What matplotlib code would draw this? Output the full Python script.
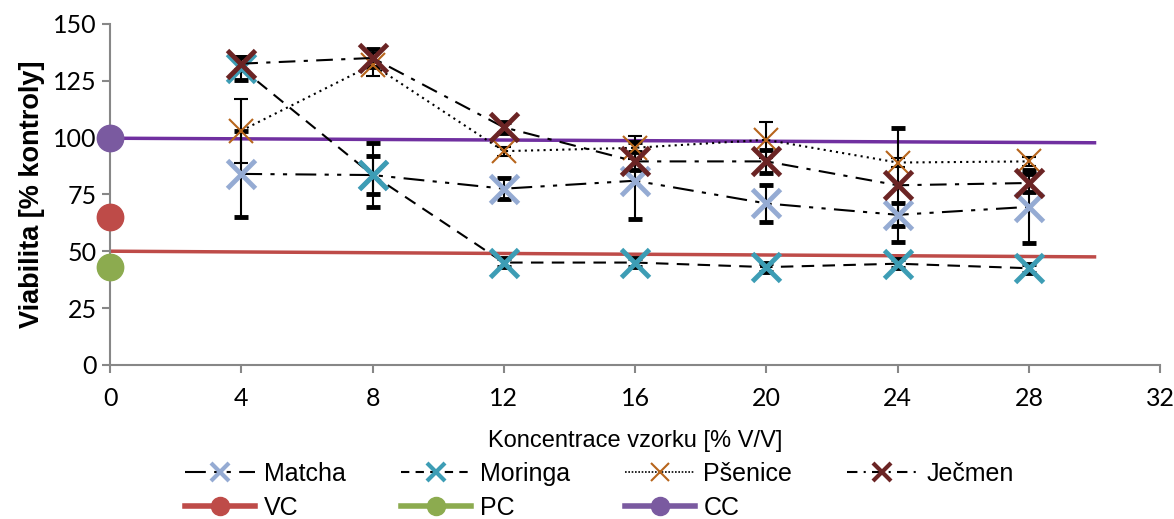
import numpy as np
import matplotlib.pyplot as plt

# data
konc = [4, 8, 12, 16, 20, 24, 28]
matcha = [84, 83.5, 77.5, 81, 71, 66, 69.5]
matcha_err = [19, 8.5, 4.5, 17, 8, 5, 16]
moringa = [130.5, 83.5, 45, 45, 43, 44.5, 42.5]
moringa_err = [5, 14, 2, 2, 2, 2, 2]
psenice = [103, 132, 94, 95.5, 99, 89, 89.5]
psenice_err = [14, 5, 2, 5, 8, 2, 2]
jecmen = [132.5, 135, 104.5, 89.5, 89.5, 79, 80]
jecmen_err = [3, 4, 2.5, 4, 5, 25, 4]

kontroly_x = [0]
vc = [65]
pc = [43]
cc = [100]
trend_x = [0, 30]
vc_trend = [50, 47.5]
cc_trend = [99.7, 97.7]

c_matcha = "#95abd3"
c_moringa = "#3d9db5"
c_psenice = "#b7651b"
c_jecmen = "#6b2424"
c_vc = "#be4b48"
c_pc = "#8cab4f"
c_cc = "#7a5aa0"
c_ax = "#878787"

plt.rcParams['font.family'] = ['Liberation Sans', 'DejaVu Sans']

fig = plt.figure(figsize=(11.74, 5.19), dpi=100)
ax = fig.add_axes([0.0937, 0.297, 0.8945, 0.657])

# control lines
ax.plot(trend_x, vc_trend, color=c_vc, lw=2.5, zorder=2)
ax.plot(trend_x, cc_trend, color="#7030a0", lw=2.5, zorder=2)

eb = dict(ecolor="black", elinewidth=1.5, capsize=5, capthick=1.5)
ax.errorbar(konc, matcha, yerr=matcha_err, color="black", lw=1.5,
            dashes=[10, 4, 2, 4, 2, 4], marker="x", ms=20, mew=3.5,
            mec=c_matcha, zorder=3, **eb)
ax.errorbar(konc, moringa, yerr=moringa_err, color="black", lw=1.5,
            dashes=[6, 4], marker="x", ms=20, mew=3.5, mec=c_moringa,
            zorder=3, **eb)
ax.errorbar(konc, psenice, yerr=psenice_err, color="black", lw=1.5,
            dashes=[1, 2], marker="x", ms=17, mew=1.5, mec=c_psenice,
            zorder=3, **eb)
ax.errorbar(konc, jecmen, yerr=jecmen_err, color="black", lw=1.5,
            dashes=[8, 4, 2, 4], marker="x", ms=20, mew=3.5, mec=c_jecmen,
            zorder=3, **eb)

ax.plot(kontroly_x, vc, "o", color=c_vc, ms=19, clip_on=False, zorder=4)
ax.plot(kontroly_x, pc, "o", color=c_pc, ms=19, clip_on=False, zorder=4)
ax.plot(kontroly_x, cc, "o", color=c_cc, ms=19, clip_on=False, zorder=4)

ax.set_xlim(0, 32)
ax.set_ylim(0, 150)
ax.set_xticks(np.arange(0, 33, 4))
ax.set_yticks(np.arange(0, 151, 25))
for s in ["top", "right"]:
    ax.spines[s].set_visible(False)
for s in ["left", "bottom"]:
    ax.spines[s].set_color(c_ax)
    ax.spines[s].set_linewidth(1.5)
ax.tick_params(colors=c_ax, width=1.5, length=6, labelcolor="black",
               labelsize=18)
for lab in ax.get_xticklabels() + ax.get_yticklabels():
    lab.set_family(['Lato', 'DejaVu Sans'])
ax.tick_params(axis="x", pad=10)

ax.set_xlabel("Koncentrace vzorku [% V/V]", fontsize=17, labelpad=14)
ax.set_ylabel("Viabilita [% kontroly]", fontsize=19.5, fontweight="bold",
              labelpad=6)

# legend
h = []
h.append(plt.Line2D([], [], color="black", lw=1.5, dashes=[10, 4, 2, 4, 2, 4],
                    marker="x", ms=13, mew=3, mec=c_matcha, label="Matcha"))
h.append(plt.Line2D([], [], color=c_vc, lw=4, marker="o", ms=13, label="VC"))
h.append(plt.Line2D([], [], color="black", lw=1.5, dashes=[4, 3],
                    marker="x", ms=13, mew=3, mec=c_moringa, label="Moringa"))
h.append(plt.Line2D([], [], color=c_pc, lw=4, marker="o", ms=13, label="PC"))
h.append(plt.Line2D([], [], color="black", lw=1.2, dashes=[1, 1],
                    marker="x", ms=13, mew=1.5, mec=c_psenice, label="Pšenice"))
h.append(plt.Line2D([], [], color=c_cc, lw=4, marker="o", ms=13, label="CC"))
h.append(plt.Line2D([], [], color="black", lw=1.5, dashes=[5, 3, 1, 3],
                    marker="x", ms=13, mew=3, mec=c_jecmen, label="Ječmen"))
fig.legend(handles=h, ncol=4, loc="lower left", bbox_to_anchor=(0.145, -0.03),
           frameon=False, fontsize=18, handlelength=2.8, columnspacing=2.2,
           handletextpad=0.35, labelspacing=0.4, borderaxespad=0.2)

fig.savefig("out.png", dpi=100)
